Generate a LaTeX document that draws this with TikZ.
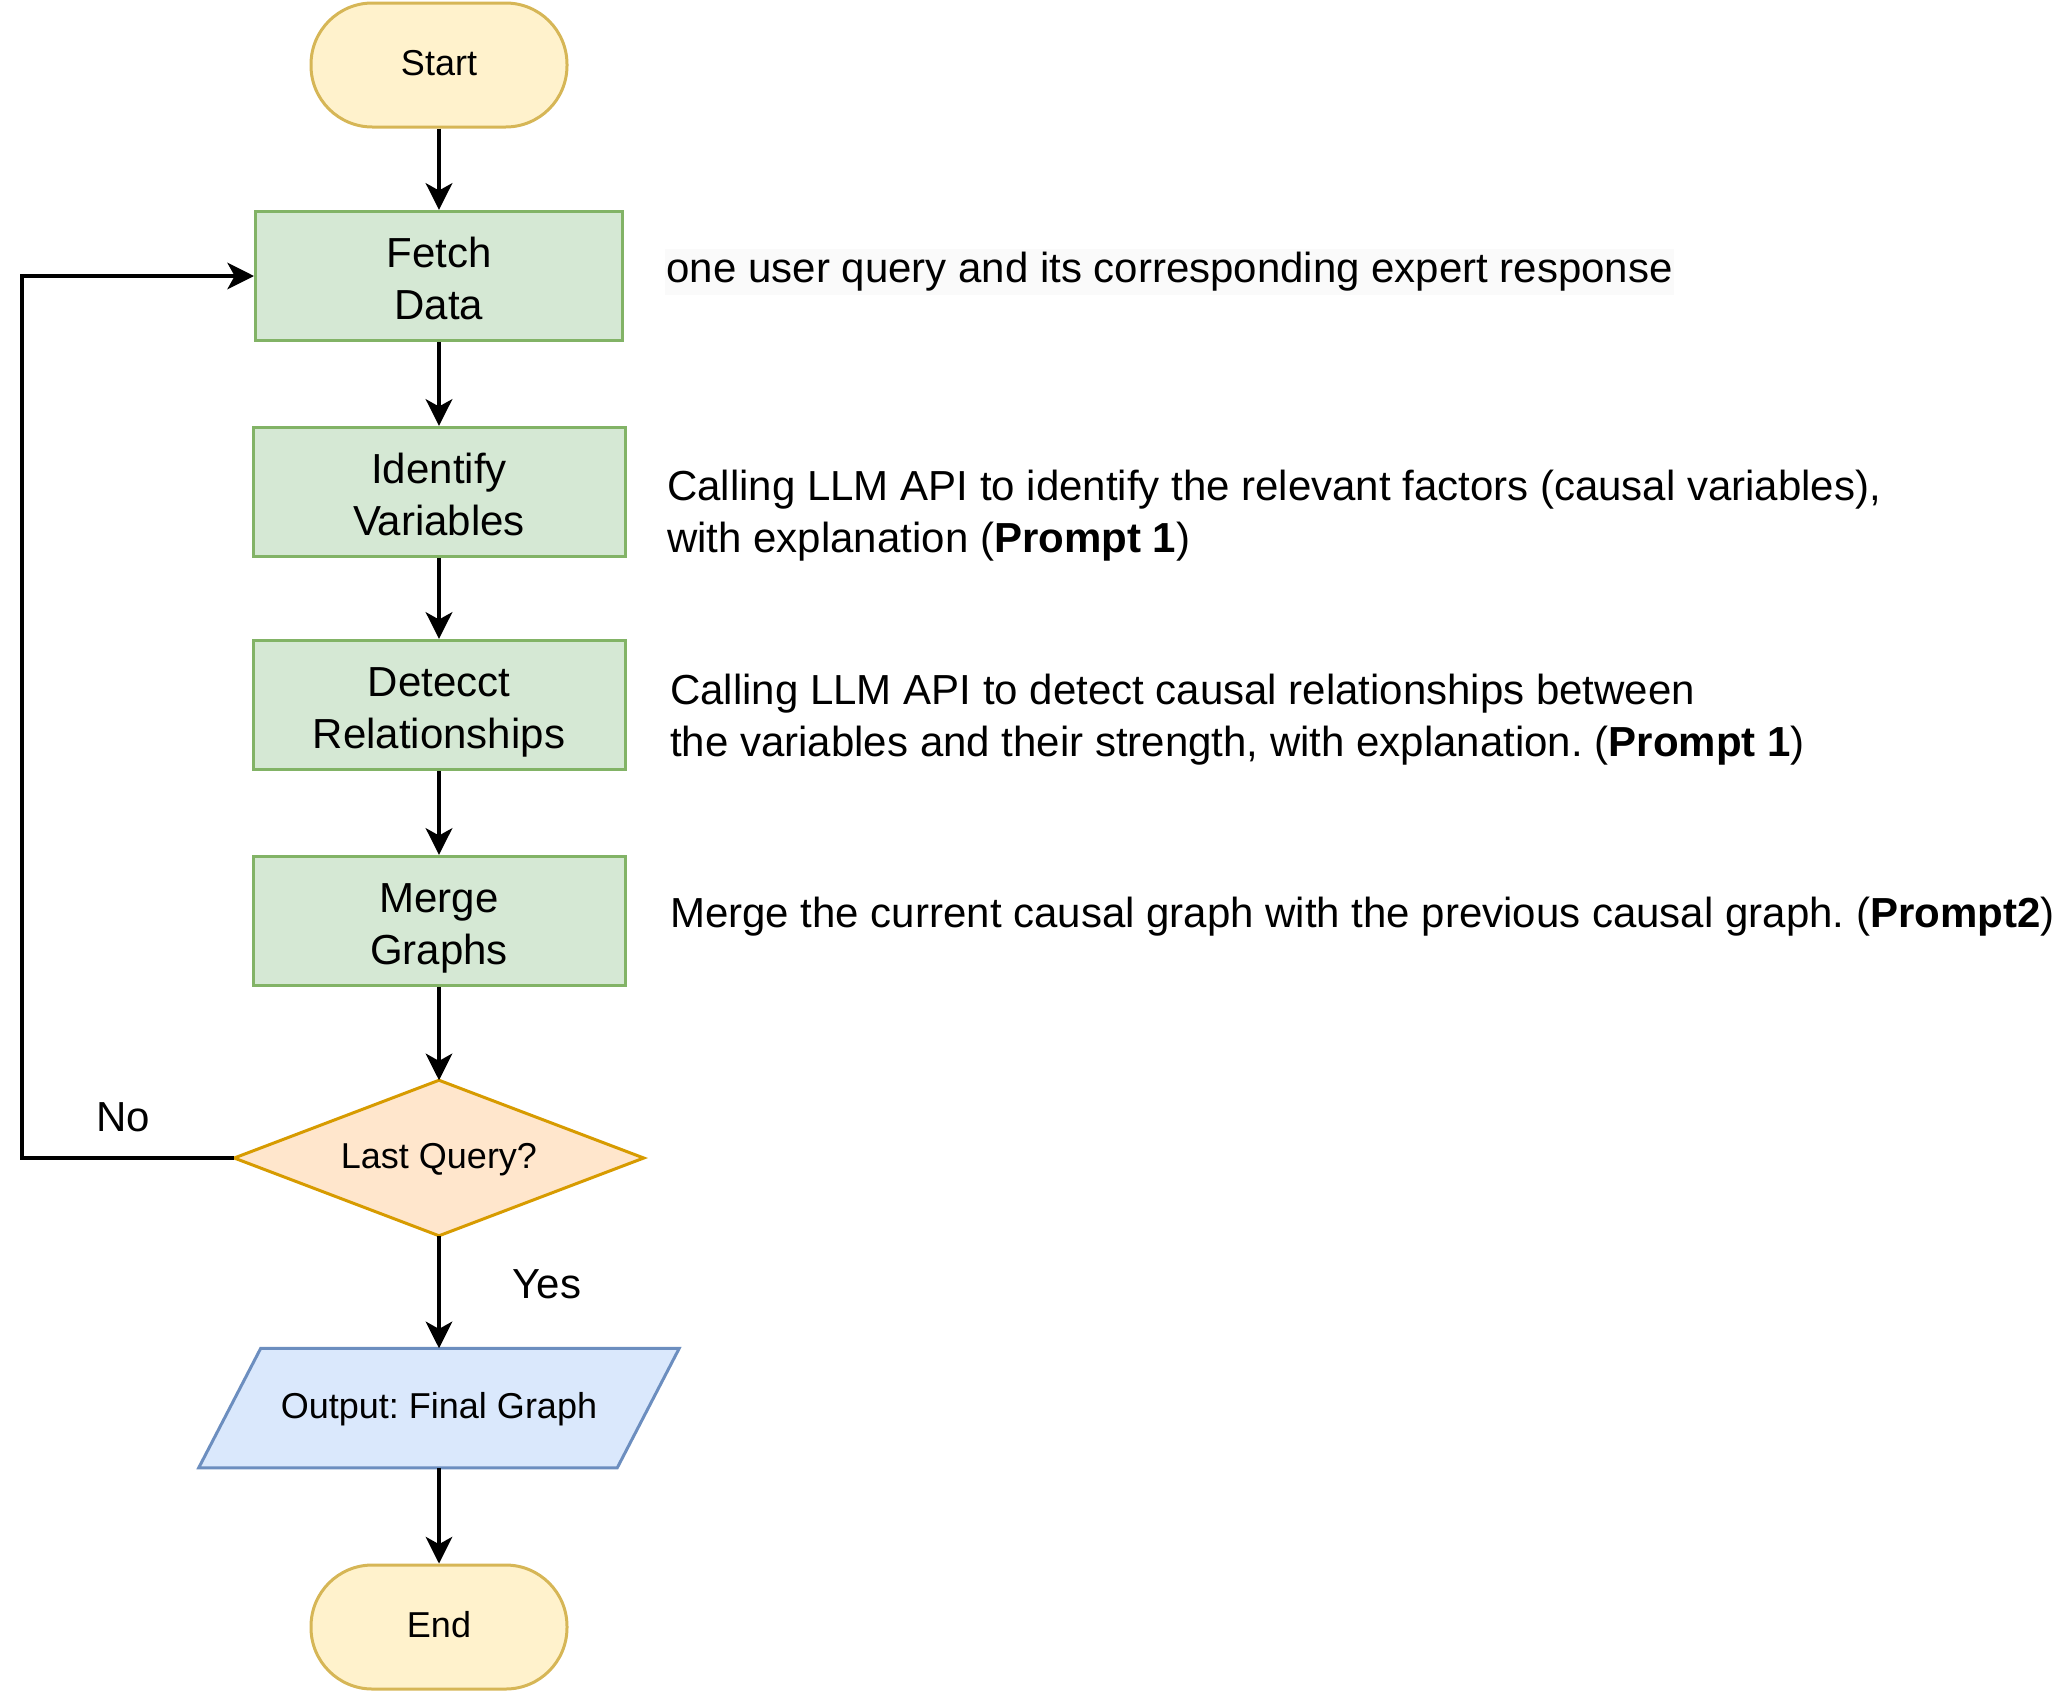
\documentclass[tikz,border=0pt]{standalone}
\usepackage{fontspec}
\setmainfont{Liberation Sans}
\usetikzlibrary{arrows.meta,backgrounds}
\definecolor{termfill}{HTML}{FFF2CC}
\definecolor{termline}{HTML}{D6B656}
\definecolor{procfill}{HTML}{D5E8D4}
\definecolor{procline}{HTML}{82B366}
\definecolor{decfill}{HTML}{FFE6CC}
\definecolor{decline}{HTML}{D79B00}
\definecolor{iofill}{HTML}{DAE8FC}
\definecolor{ioline}{HTML}{6C8EBF}
\definecolor{notebg}{HTML}{FAFAFA}
\frenchspacing
\begin{document}
\begin{tikzpicture}[x=0.75pt,y=-0.75pt,
  big/.style={font=\fontsize{31.5pt}{39pt}\selectfont},
  small/.style={font=\fontsize{27pt}{33pt}\selectfont, text height=19.3pt, text depth=3.9pt},
  terminal/.style={small, draw=termline, fill=termfill, line width=2.25pt,
    rounded corners=46pt, minimum width=192pt, minimum height=93pt, inner sep=0pt},
  process/.style={big, draw=procline, fill=procfill, line width=2.25pt,
    minimum width=279pt, minimum height=97pt, align=center, inner sep=0pt,
    text height=64.5pt, text depth=0pt},
  shapebox/.style={small, minimum height=#1, inner sep=0pt},
  flow/.style={draw=black, line width=2.4pt, -{Stealth[length=20pt,width=20pt,inset=5.5pt]}},
  note/.style={big, anchor=west, align=left, inner sep=0pt},
  lbl/.style={big, inner sep=0pt}
]
% canvas
\useasboundingbox (0,0) rectangle (2055,1692);

% flowchart column
\node[terminal] (start) at (439,65) {Start};
\node[process, minimum width=275.25pt] (fetch) at (439,276) {Fetch\\Data};
\node[process] (ident) at (439,492) {Identify\\Variables};
\node[process] (detect) at (439,705) {Detecct\\Relationships};
\node[process] (merge) at (439,921) {Merge\\Graphs};
\node[shapebox=116.25pt, minimum width=306.75pt] (dec) at (439,1158) {Last Query?};
\node[shapebox=89.25pt, minimum width=313.5pt] (out) at (439,1408) {Output: Final Graph};
\node[terminal] (end) at (439,1627) {End};

% decision diamond and output parallelogram, drawn under their texts
\begin{pgfonlayer}{background}
  \filldraw[draw=decline, fill=decfill, line width=2.25pt]
    (dec.north) -- (dec.east) -- (dec.south) -- (dec.west) -- cycle;
  \filldraw[draw=ioline, fill=iofill, line width=2.25pt]
    ([xshift=23.25pt]out.north west) -- ([xshift=23.25pt]out.north east)
    -- ([xshift=-23.25pt]out.south east) -- ([xshift=-23.25pt]out.south west) -- cycle;
\end{pgfonlayer}

% connectors
\draw[flow] (start) -- (fetch);
\draw[flow] (fetch) -- (ident);
\draw[flow] (ident) -- (detect);
\draw[flow] (detect) -- (merge);
\draw[flow] (merge) -- (dec.north);
\draw[flow] (dec.south) -- (out.north);
\draw[flow] (out.south) -- (end);
\coordinate (loop) at (22,700);
\draw[flow] (dec.west) -| (loop) |- (fetch.west);

\node[lbl] (no) at (123,1117) {No};
\node[lbl] (yes) at (547,1284) {Yes};

% descriptions
\node[note, fill=notebg, inner xsep=1pt, minimum height=34.5pt] (n1) at (665,272)
  {one user query and its corresponding expert response};
\node[note] (n2) at (667,516)
  {Calling LLM API to identify the relevant factors (causal variables),\\with explanation (\textbf{Prompt 1})};
\node[note] (n3) at (670,720)
  {Calling LLM API to detect causal relationships between\\the variables and their strength, with explanation. (\textbf{Prompt 1})};
\node[note] (n4) at (670,917)
  {Merge the current causal graph with the previous causal graph. (\textbf{Prompt2})};
\end{tikzpicture}
\end{document}
